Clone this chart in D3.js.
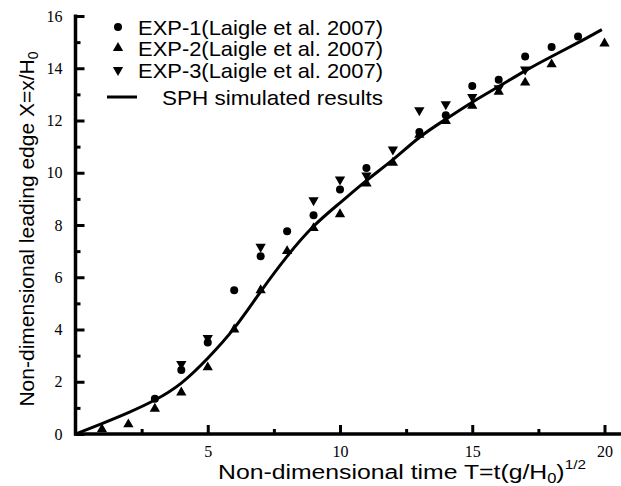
<!DOCTYPE html>
<html>
<head>
<meta charset="utf-8">
<script src="https://cdn.jsdelivr.net/npm/d3@7"></script>
<style>
  body { margin: 0; background: #fff; }
  svg { display: block; }
</style>
</head>
<body>
<script>
var exp1X = [3, 4, 5, 6, 7, 8, 9, 10, 11, 13, 14, 15, 16, 17, 18, 19];
var exp1Y = [1.35, 2.45, 3.5, 5.5, 6.8, 7.76, 8.37, 9.36, 10.18, 11.56, 12.2, 13.32, 13.56, 14.45, 14.81, 15.22];

var exp2X = [1, 2, 3, 4, 5, 6, 7, 8, 9, 10, 11, 12, 13, 14, 15, 16, 17, 18, 20];
var exp2Y = [0.18, 0.37, 0.97, 1.59, 2.55, 4.0, 5.5, 7.0, 7.88, 8.41, 9.59, 10.38, 11.45, 11.98, 12.56, 13.1, 13.45, 14.15, 14.95];

var exp3X = [4, 5, 7, 9, 10, 11, 12, 13, 14, 15, 16, 17];
var exp3Y = [2.68, 3.68, 7.17, 8.95, 9.74, 9.9, 10.89, 12.39, 12.62, 12.9, 13.24, 13.95];

var sphX = [0, 1, 2, 3, 4, 5, 6, 7, 8, 9, 10, 11, 12, 13, 14, 15, 16, 17, 18, 19, 19.9];
var sphY = [0, 0.4, 0.82, 1.3, 1.95, 2.9, 4.05, 5.45, 6.8, 7.95, 8.85, 9.7, 10.5, 11.35, 12.05, 12.7, 13.3, 13.9, 14.45, 14.98, 15.48];

var xMajor = [5, 10, 15, 20];
var xMinor = [2.5, 7.5, 12.5, 17.5];
var yMajor = [0, 2, 4, 6, 8, 10, 12, 14, 16];
var yMinor = [1, 3, 5, 7, 9, 11, 13, 15];

var legendLabels = ["EXP-1(Laigle et al. 2007)", "EXP-2(Laigle et al. 2007)", "EXP-3(Laigle et al. 2007)", "SPH simulated results"];

var width = 621, height = 486;

var svg = d3.select("body").append("svg")
  .attr("width", width)
  .attr("height", height);

var x = d3.scaleLinear().domain([0, 20]).range([75.5, 604.5]);
var y = d3.scaleLinear().domain([0, 16]).range([434, 16]);

var serif = "'Liberation Serif', 'Times New Roman', serif";
var sans = "'Liberation Sans', Arial, sans-serif";

// x axis ticks (inward)
var gx = svg.append("g").attr("transform", "translate(0," + y(0) + ")");
gx.call(d3.axisBottom(x).tickValues(xMajor).tickSize(-9).tickPadding(12).tickFormat(d3.format("d")));
gx.select(".domain").remove();
gx.selectAll("line").attr("stroke", "#000").attr("stroke-width", 3);
gx.selectAll("text").attr("font-family", serif).attr("font-size", 16).attr("fill", "#000");

var gx2 = svg.append("g").attr("transform", "translate(0," + y(0) + ")");
gx2.call(d3.axisBottom(x).tickValues(xMinor).tickSize(-5).tickFormat(""));
gx2.select(".domain").remove();
gx2.selectAll("line").attr("stroke", "#000").attr("stroke-width", 3);

// y axis ticks (inward)
var gy = svg.append("g").attr("transform", "translate(" + x(0) + ",0)");
gy.call(d3.axisLeft(y).tickValues(yMajor).tickSize(-9).tickPadding(13).tickFormat(d3.format("d")));
gy.select(".domain").remove();
gy.selectAll("line").attr("stroke", "#000").attr("stroke-width", 3);
gy.selectAll("text").attr("font-family", serif).attr("font-size", 16).attr("fill", "#000");

var gy2 = svg.append("g").attr("transform", "translate(" + x(0) + ",0)");
gy2.call(d3.axisLeft(y).tickValues(yMinor).tickSize(-5).tickFormat(""));
gy2.select(".domain").remove();
gy2.selectAll("line").attr("stroke", "#000").attr("stroke-width", 3);

// axis lines
svg.append("line")
  .attr("x1", x(0)).attr("x2", x(0))
  .attr("y1", y(16) - 1.5).attr("y2", y(0) + 1.5)
  .attr("stroke", "#000").attr("stroke-width", 3.5);
svg.append("line")
  .attr("x1", x(0) - 1.5).attr("x2", width)
  .attr("y1", y(0)).attr("y2", y(0))
  .attr("stroke", "#000").attr("stroke-width", 3.5);

// SPH curve
var sph = sphX.map(function (d, i) { return [d, sphY[i]]; });
var line = d3.line()
  .x(function (d) { return x(d[0]); })
  .y(function (d) { return y(d[1]); })
  .curve(d3.curveNatural);
svg.append("path")
  .datum(sph)
  .attr("d", line)
  .attr("fill", "none")
  .attr("stroke", "#000")
  .attr("stroke-width", 3);

// experimental points
var tri = d3.symbol().type(d3.symbolTriangle).size(46);

svg.selectAll(".exp1")
  .data(exp1X.map(function (d, i) { return [d, exp1Y[i]]; }))
  .enter().append("circle")
  .attr("cx", function (d) { return x(d[0]); })
  .attr("cy", function (d) { return y(d[1]); })
  .attr("r", 4)
  .attr("fill", "#000");

svg.selectAll(".exp2")
  .data(exp2X.map(function (d, i) { return [d, exp2Y[i]]; }))
  .enter().append("path")
  .attr("d", tri)
  .attr("transform", function (d) { return "translate(" + x(d[0]) + "," + y(d[1]) + ")"; })
  .attr("fill", "#000");

svg.selectAll(".exp3")
  .data(exp3X.map(function (d, i) { return [d, exp3Y[i]]; }))
  .enter().append("path")
  .attr("d", tri)
  .attr("transform", function (d) { return "translate(" + x(d[0]) + "," + y(d[1]) + ") rotate(180)"; })
  .attr("fill", "#000");

// legend
var legendY = [27, 48, 70, 97];
svg.append("circle").attr("cx", 118).attr("cy", legendY[0]).attr("r", 4).attr("fill", "#000");
svg.append("path").attr("d", tri).attr("transform", "translate(118," + legendY[1] + ")").attr("fill", "#000");
svg.append("path").attr("d", tri).attr("transform", "translate(118," + legendY[2] + ") rotate(180)").attr("fill", "#000");
svg.append("line").attr("x1", 107).attr("x2", 137).attr("y1", legendY[3]).attr("y2", legendY[3])
  .attr("stroke", "#000").attr("stroke-width", 3);

svg.selectAll(".leg")
  .data(legendLabels)
  .enter().append("text")
  .attr("x", function (d, i) { return i < 3 ? 138 : 162; })
  .attr("y", function (d, i) { return legendY[i] + 7.5; })
  .attr("font-family", sans)
  .attr("font-size", 21)
  .attr("textLength", function (d, i) { return i < 3 ? 245 : 221; })
  .attr("lengthAdjust", "spacingAndGlyphs")
  .attr("fill", "#000")
  .text(function (d) { return d; });

// axis titles
var xt = svg.append("text")
  .attr("transform", "translate(218,479) scale(1.18,1)")
  .attr("font-family", sans).attr("font-size", 21).attr("fill", "#000");
xt.append("tspan").text("Non-dimensional time T=t(g/H");
xt.append("tspan").attr("font-size", 14).attr("dy", 4).text("0");
xt.append("tspan").attr("dy", -4).text(")");
xt.append("tspan").attr("font-size", 13).attr("dy", -10).text("1/2");

var yt = svg.append("text")
  .attr("transform", "translate(34,229) rotate(-90)")
  .attr("text-anchor", "middle")
  .attr("font-family", sans).attr("font-size", 21).attr("fill", "#000");
yt.append("tspan").text("Non-dimensional leading edge X=x/H");
yt.append("tspan").attr("font-size", 14).attr("dy", 4).text("0");
</script>
</body>
</html>
